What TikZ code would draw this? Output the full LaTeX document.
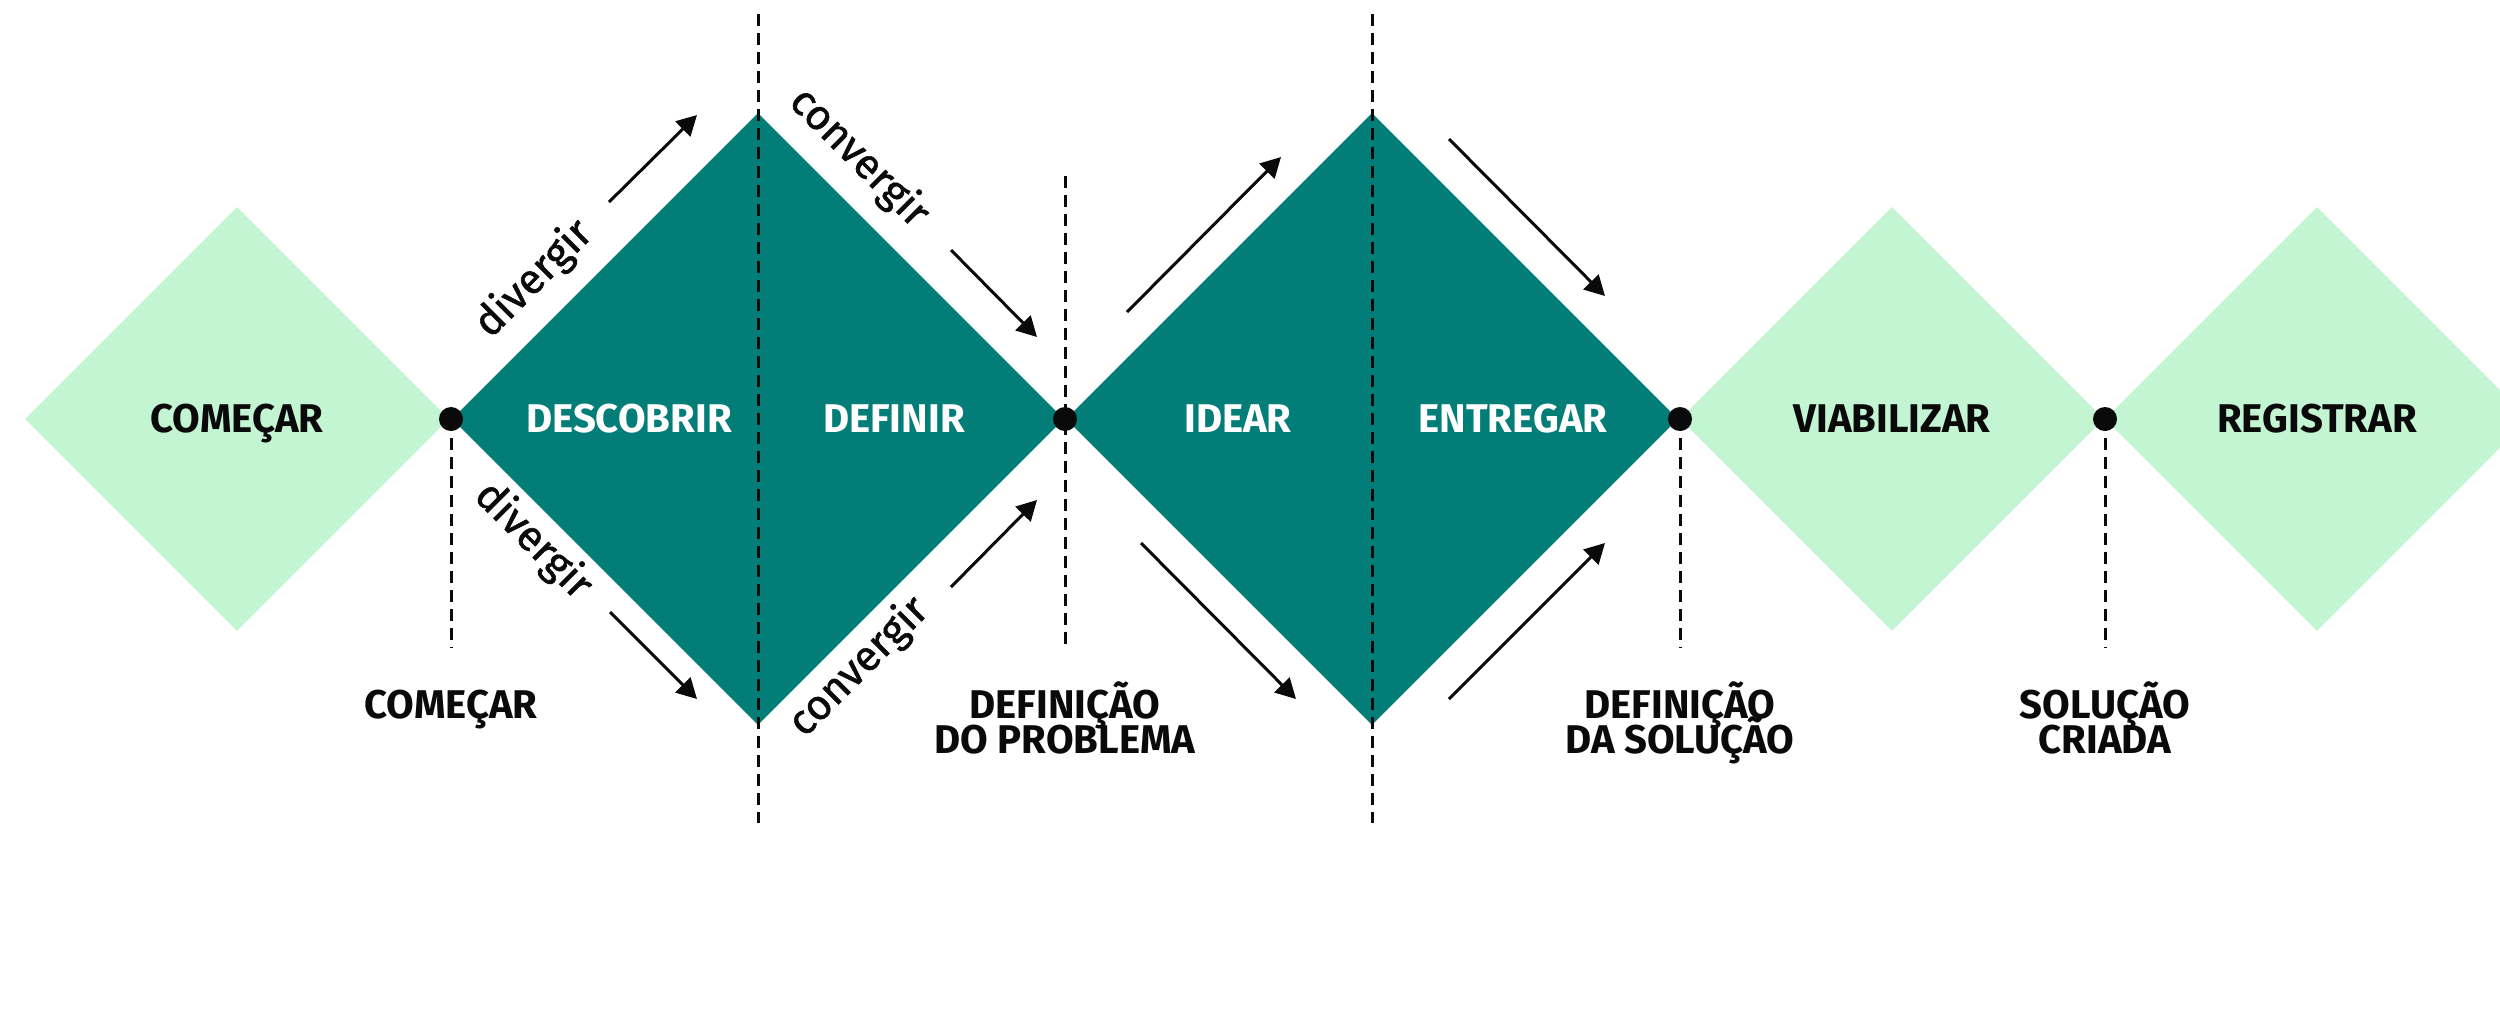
\documentclass[tikz,border=0pt]{standalone}
\usepackage{fontspec}
\setmainfont{Fira Sans}
\newfontfamily\sidefont[FakeBold=1.3]{Fira Sans}
\usepackage{tikz}
\usetikzlibrary{positioning,shapes.geometric,arrows.meta}
\definecolor{deepteal}{HTML}{027D78}
\definecolor{mint}{HTML}{C3F5D3}
\definecolor{ink}{HTML}{0A0A0A}
\setlength{\lineskiplimit}{-20pt}

\begin{document}
\begin{tikzpicture}
  [x=0.01cm,y=-0.01cm,every node/.style={inner sep=0pt},
   pale/.style={diamond,aspect=1,fill=mint,minimum size=4.24cm,text=ink,text height=7.85pt,text depth=0pt,font=\fontsize{11.4}{12}\selectfont\bfseries},
   deep/.style={diamond,aspect=1,fill=deepteal,minimum size=6.12cm},
   stage/.style={text=white,text height=7.85pt,text depth=0pt,font=\fontsize{11.4}{12}\selectfont\bfseries},
   joint/.style={circle,fill=ink,minimum size=0.24cm},
   guide/.style={ink,line width=0.03cm,dash pattern=on 0.12cm off 0.07cm},
   flow/.style={ink,line width=0.03cm,-{Triangle[length=0.2cm,width=0.21cm]}},
   side/.style={text=ink,font=\fontsize{12}{14}\selectfont\sidefont},
   milestone/.style={text=ink,align=center,anchor=base,font=\fontsize{11.4}{9.7}\selectfont\bfseries}]
  \useasboundingbox (0,0) rectangle (2500,1029);
  % losangos
  \node[pale] (d1) at (237,419) {COMEÇAR};
  \node[deep] (d2) at (758,419) {};
  \node[deep] (d3) at (1372,419) {};
  \node[pale] (d4) at (1892,419) {VIABILIZAR};
  \node[pale] (d5) at (2317,419) {REGISTRAR};
  % linhas tracejadas
  \foreach \x/\top/\bot in {758/14/823,1372/14/823,1065/176/648,451/419/648,1680/419/648,2105/419/648}
    \draw[guide] (\x,\top) -- (\x,\bot);
  \node[joint] (p1) at (451,419) {};
  \node[joint] (p2) at (1065,419) {};
  \node[joint] (p3) at (1680,419) {};
  \node[joint] (p4) at (2105,419) {};
  \node[stage] (s1) at (629,419) {DESCOBRIR};
  \node[stage] (s2) at (894,419) {DEFINIR};
  \node[stage] (s3) at (1238,419) {IDEAR};
  \node[stage] (s4) at (1513,419) {ENTREGAR};
  % setas
  \coordinate (a1) at (609,202);  \coordinate (b1) at (697,115);
  \coordinate (a2) at (951,250);  \coordinate (b2) at (1037,337);
  \coordinate (a3) at (951,587);  \coordinate (b3) at (1037,500);
  \coordinate (a4) at (610,612);  \coordinate (b4) at (697,699);
  \coordinate (a5) at (1127,312); \coordinate (b5) at (1281,157);
  \coordinate (a6) at (1449,139); \coordinate (b6) at (1605,296);
  \coordinate (a7) at (1141,543); \coordinate (b7) at (1296,699);
  \coordinate (a8) at (1449,699); \coordinate (b8) at (1605,543);
  \foreach \from/\to in {a1/b1,a2/b2,a3/b3,a4/b4,a5/b5,a6/b6,a7/b7,a8/b8}
    \draw[flow] (\from) -- (\to);
  \node[side,rotate=45] (l1) at (534,279) {divergir};
  \node[side,rotate=-45] (l2) at (533,541) {divergir};
  \node[side,rotate=-45] (l3) at (859,158) {convergir};
  \node[side,rotate=45] (l4) at (859,667) {convergir};
  % marcos
  \node[milestone] (m1) at (451,718) {COMEÇAR};
  \node[milestone] (m2) at (1065,753) {DEFINIÇÃO\\DO PROBLEMA};
  \node[milestone] (m3) at (1680,753) {DEFINIÇÃO\\DA SOLUÇÃO};
  \node[milestone] (m4) at (2105,753) {SOLUÇÃO\\CRIADA};
\end{tikzpicture}
\end{document}
